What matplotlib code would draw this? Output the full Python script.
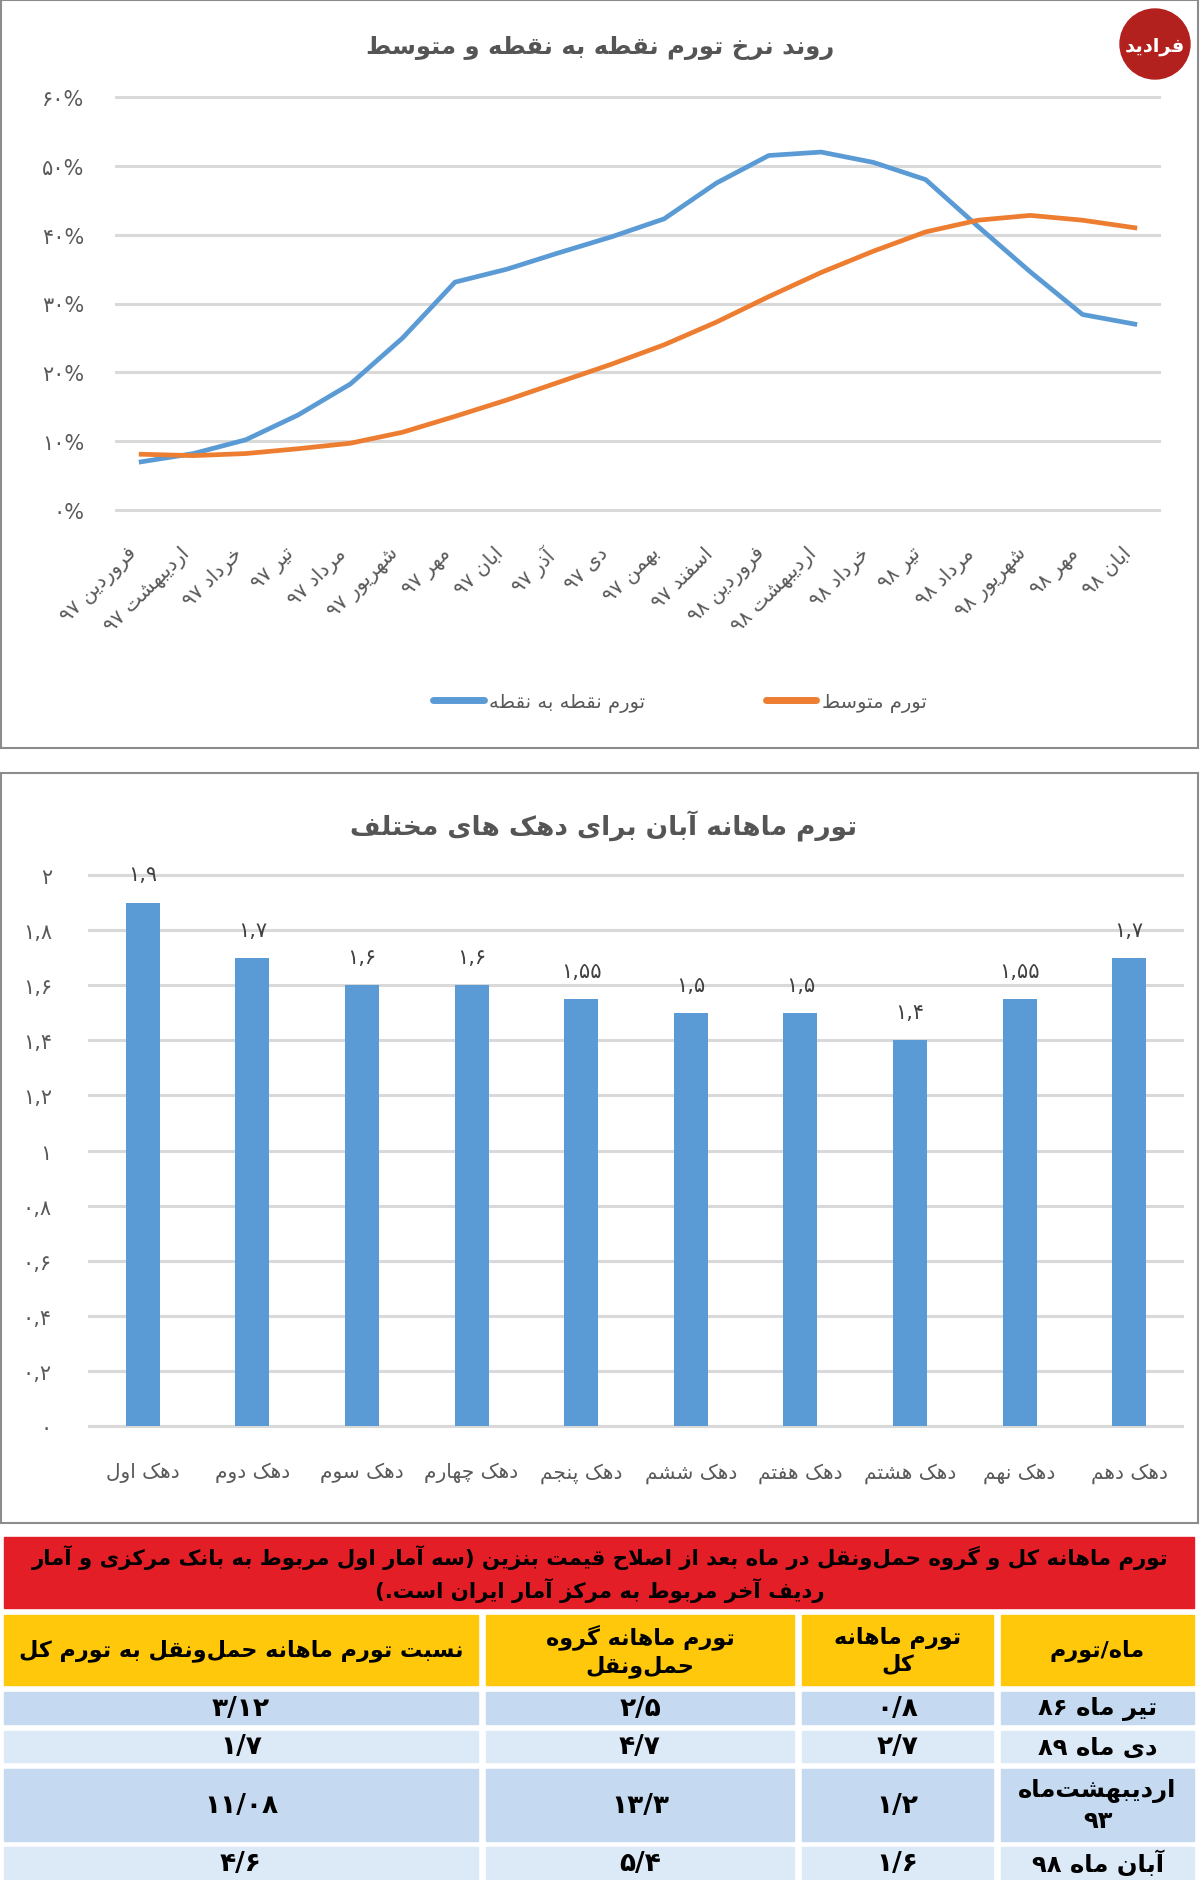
import re
import matplotlib
matplotlib.use("Agg")
import matplotlib.pyplot as plt
from matplotlib.patches import Rectangle, Circle

# ---------------- Persian shaping helpers ----------------
DUAL = {
    'ب': 'ﺏﺐﺑﺒ', 'پ': 'ﭖﭗﭘﭙ', 'ت': 'ﺕﺖﺗﺘ', 'ث': 'ﺙﺚﺛﺜ', 'ج': 'ﺝﺞﺟﺠ',
    'چ': 'ﭺﭻﭼﭽ', 'ح': 'ﺡﺢﺣﺤ', 'خ': 'ﺥﺦﺧﺨ', 'س': 'ﺱﺲﺳﺴ', 'ش': 'ﺵﺶﺷﺸ',
    'ص': 'ﺹﺺﺻﺼ', 'ض': 'ﺽﺾﺿﻀ', 'ط': 'ﻁﻂﻃﻄ', 'ظ': 'ﻅﻆﻇﻈ', 'ع': 'ﻉﻊﻋﻌ',
    'غ': 'ﻍﻎﻏﻐ', 'ف': 'ﻑﻒﻓﻔ', 'ق': 'ﻕﻖﻗﻘ', 'ک': 'ﮎﮏﮐﮑ', 'گ': 'ﮒﮓﮔﮕ',
    'ل': 'ﻝﻞﻟﻠ', 'م': 'ﻡﻢﻣﻤ', 'ن': 'ﻥﻦﻧﻨ', 'ه': 'ﻩﻪﻫﻬ', 'ی': 'ﯼﯽﯾﯿ',
    'ئ': 'ﺉﺊﺋﺌ',
}
RIGHT = {
    'ا': 'ﺍﺎ', 'آ': 'ﺁﺂ', 'أ': 'ﺃﺄ', 'إ': 'ﺇﺈ', 'د': 'ﺩﺪ', 'ذ': 'ﺫﺬ',
    'ر': 'ﺭﺮ', 'ز': 'ﺯﺰ', 'ژ': 'ﮊﮋ', 'و': 'ﻭﻮ', 'ؤ': 'ﺅﺆ',
}
LAMALEF = {'ا': 'ﻻﻼ', 'آ': 'ﻵﻶ', 'أ': 'ﻷﻸ', 'إ': 'ﻹﻺ'}


def _shape(text):
    toks = []
    i = 0
    while i < len(text):
        c = text[i]
        if c == 'ل' and i + 1 < len(text) and text[i + 1] in LAMALEF:
            toks.append(('LA', text[i + 1]))
            i += 2
        else:
            toks.append(c)
            i += 1

    def dual(t):
        return isinstance(t, str) and t in DUAL

    def joining(t):
        return isinstance(t, tuple) or (isinstance(t, str) and (t in DUAL or t in RIGHT))

    out = []
    for k, t in enumerate(toks):
        prev = toks[k - 1] if k > 0 else None
        nxt = toks[k + 1] if k + 1 < len(toks) else None
        cp = prev is not None and dual(prev) and joining(t)
        cn = nxt is not None and dual(t) and joining(nxt)
        if isinstance(t, tuple):
            out.append(LAMALEF[t[1]][1 if cp else 0])
        elif t in DUAL:
            f = DUAL[t]
            out.append(f[3] if (cp and cn) else f[1] if cp else f[2] if cn else f[0])
        elif t in RIGHT:
            out.append(RIGHT[t][1 if cp else 0])
        elif t == '\u200c':
            continue
        else:
            out.append(t)
    return ''.join(out)


MIRROR = {'(': ')', ')': '('}
NUMRE = re.compile(r'[0-9۰-۹]+(?:[/٫.,][0-9۰-۹]+)*')


def fa(text):
    lines = []
    for line in text.split('\n'):
        s = _shape(line)
        toks = []
        pos = 0
        for m in NUMRE.finditer(s):
            toks.extend(list(s[pos:m.start()]))
            toks.append(m.group())
            pos = m.end()
        toks.extend(list(s[pos:]))
        toks = [MIRROR.get(t, t) for t in reversed(toks)]
        lines.append(''.join(toks))
    return '\n'.join(lines)


# ---------------- data ----------------
months = ['فروردین ۹۷', 'اردیبهشت ۹۷', 'خرداد ۹۷', 'تیر ۹۷', 'مرداد ۹۷',
          'شهریور ۹۷', 'مهر ۹۷', 'ابان ۹۷', 'آذر ۹۷', 'دی ۹۷', 'بهمن ۹۷',
          'اسفند ۹۷', 'فروردین ۹۸', 'اردیبهشت ۹۸', 'خرداد ۹۸', 'تیر ۹۸',
          'مرداد ۹۸', 'شهریور ۹۸', 'مهر ۹۸', 'ابان ۹۸']
point_to_point = [7.0, 8.2, 10.2, 13.8, 18.3, 25.0, 33.1, 35.0, 37.4, 39.7,
                  42.3, 47.5, 51.5, 52.0, 50.5, 48.0, 41.2, 34.6, 28.4, 27.0]
average = [8.1, 7.9, 8.2, 8.9, 9.7, 11.3, 13.6, 16.0, 18.6, 21.2,
           24.0, 27.3, 31.0, 34.5, 37.6, 40.4, 42.1, 42.8, 42.1, 41.0]
line_title = 'روند نرخ تورم نقطه به نقطه و متوسط'
series_names = ['تورم نقطه به نقطه', 'تورم متوسط']
pct_ticks = [0, 10, 20, 30, 40, 50, 60]
pct_labels = ['۰%', '۱۰%', '۲۰%', '۳۰%', '۴۰%', '۵۰%', '۶۰%']

deciles = ['دهک اول', 'دهک دوم', 'دهک سوم', 'دهک چهارم', 'دهک پنجم',
           'دهک ششم', 'دهک هفتم', 'دهک هشتم', 'دهک نهم', 'دهک دهم']
decile_values = [1.9, 1.7, 1.6, 1.6, 1.55, 1.5, 1.5, 1.4, 1.55, 1.7]
decile_labels = ['۱,۹', '۱,۷', '۱,۶', '۱,۶', '۱,۵۵', '۱,۵', '۱,۵', '۱,۴', '۱,۵۵', '۱,۷']
bar_title = 'تورم ماهانه آبان برای دهک های مختلف'
bar_ticks = [0, 0.2, 0.4, 0.6, 0.8, 1.0, 1.2, 1.4, 1.6, 1.8, 2.0]
bar_tick_labels = ['۰', '۰,۲', '۰,۴', '۰,۶', '۰,۸', '۱', '۱,۲', '۱,۴', '۱,۶', '۱,۸', '۲']

table_title = ('تورم ماهانه کل و گروه حمل‌ونقل در ماه بعد از اصلاح قیمت بنزین (سه آمار اول مربوط به بانک مرکزی و آمار\n'
               'ردیف آخر مربوط به مرکز آمار ایران است.)')
table_header = ['ماه/تورم', 'تورم ماهانه\nکل', 'تورم ماهانه گروه\nحمل‌ونقل',
                'نسبت تورم ماهانه حمل‌ونقل به تورم کل']
table_months = ['تیر ماه ۸۶', 'دی ماه ۸۹', 'اردیبهشت‌ماه\n۹۳', 'آبان ماه ۹۸']
table_total = ['۰/۸', '۲/۷', '۱/۲', '۱/۶']
table_transport = ['۲/۵', '۴/۷', '۱۳/۳', '۵/۴']
table_ratio = ['۳/۱۲', '۱/۷', '۱۱/۰۸', '۴/۶']

# ---------------- figure ----------------
W, H = 1200, 1881
fig = plt.figure(figsize=(W / 100, H / 100), dpi=100)
plt.rcParams['font.family'] = ['DejaVu Sans']

BLUE = '#5B9BD5'
ORANGE = '#ED7D31'
GRID = '#D9D9D9'
TXT = '#595959'


def box(left, top, right, bottom):
    return [left / W, 1 - bottom / H, (right - left) / W, (bottom - top) / H]


bg = fig.add_axes([0, 0, 1, 1])
bg.set_xlim(0, W)
bg.set_ylim(H, 0)
bg.axis('off')
bg.add_patch(Rectangle((1, 1), W - 3, 748, fill=False, ec='#8C8C8C', lw=1.5))
bg.add_patch(Rectangle((1, 774), W - 3, 750, fill=False, ec='#8C8C8C', lw=1.5))

# ---- line chart ----
ppu = (511 - 98) / 60.0
ax1 = fig.add_axes(box(115, 98 - 0.4 * ppu, 1161, 511 + 0.4 * ppu))
x = list(range(len(months)))
ax1.plot(x, point_to_point, color=BLUE, lw=3.4, solid_joinstyle='round', label=fa(series_names[0]), zorder=3)
ax1.plot(x, average, color=ORANGE, lw=3.4, solid_joinstyle='round', label=fa(series_names[1]), zorder=3)
ax1.set_xlim(-0.5, len(months) - 0.5)
ax1.set_ylim(-0.4, 60.4)
ax1.set_yticks(pct_ticks)
ax1.set_yticklabels(pct_labels, fontsize=15, color=TXT)
ax1.set_xticks(x)
ax1.set_xticklabels([fa(m) for m in months], rotation=45, ha='right', va='top',
                    fontsize=14.5, color=TXT)
ax1.tick_params(axis='both', length=0)
ax1.tick_params(axis='y', pad=22)
ax1.tick_params(axis='x', pad=22)
ax1.grid(axis='y', color=GRID, lw=2.2)
ax1.set_axisbelow(True)
for s in ax1.spines.values():
    s.set_visible(False)
ax1.set_facecolor('none')
fig.text(600 / W, 1 - 48 / H, fa(line_title), ha='center', va='center',
         fontsize=17.5, fontweight='bold', color='#555555')
ax1.legend(loc='center', bbox_to_anchor=(680 / W, 1 - 703 / H), bbox_transform=fig.transFigure,
           ncol=2, frameon=False, fontsize=14, handlelength=2.6, handletextpad=0.3,
           columnspacing=6.2, labelcolor=TXT)
for ln in ax1.get_legend().get_lines():
    ln.set_linewidth(5)
    ln.set_solid_capstyle('round')

# logo
bg.add_patch(Circle((1155, 45), 35, color='#B3211E'))
bg.text(1155, 46, fa('فرادید'), ha='center', va='center', color='white',
        fontsize=14, fontweight='bold')

# ---- bar chart ----
bpu = (1427 - 876) / 2.0
ax2 = fig.add_axes(box(88, 876 - 0.01 * bpu, 1184, 1427 + 0.01 * bpu))
xb = list(range(len(deciles)))
bars = ax2.bar(xb, decile_values, width=0.31, color=BLUE, zorder=3)
for rect, lab in zip(bars, decile_labels):
    ax2.annotate(lab, (rect.get_x() + rect.get_width() / 2, rect.get_height()),
                 xytext=(0, 13), textcoords='offset points', ha='center', va='bottom',
                 fontsize=15, color='#404040')
ax2.set_xlim(-0.5, len(deciles) - 0.5)
ax2.set_ylim(-0.01, 2.01)
ax2.set_yticks(bar_ticks)
ax2.set_yticklabels(bar_tick_labels, fontsize=15, color=TXT)
ax2.set_xticks(xb)
ax2.set_xticklabels([fa(d) for d in deciles], fontsize=14.5, color=TXT)
ax2.tick_params(axis='both', length=0)
ax2.tick_params(axis='y', pad=26)
ax2.tick_params(axis='x', pad=24)
ax2.grid(axis='y', color=GRID, lw=2.2)
ax2.set_axisbelow(True)
for s in ax2.spines.values():
    s.set_visible(False)
ax2.set_facecolor('none')
fig.text(604 / W, 1 - 826 / H, fa(bar_title), ha='center', va='center',
         fontsize=19, fontweight='bold', color='#555555')

# ---- table ----
RED = '#E41E26'
YEL = '#FFC80A'
ROW_DARK = '#C5DAF0'
ROW_LIGHT = '#DCE9F6'
bg.add_patch(Rectangle((4, 1538), 1190, 71, color=RED))
bg.text(600, 1574, fa(table_title), ha='center', va='center', fontsize=15.3,
        fontweight='bold', color='black', linespacing=1.4)

col_bounds = [(1001, 1194), (802, 993), (486, 794), (4, 478)]  # right-to-left columns
row_bounds = [(1616, 1686), (1693, 1725), (1732, 1763), (1770, 1842), (1848, 1890)]
rows = [table_header] + [list(r) for r in zip(table_months, table_total, table_transport, table_ratio)]
for ri, ((top, bot), row) in enumerate(zip(row_bounds, rows)):
    if ri == 0:
        color = YEL
    else:
        color = ROW_DARK if ri % 2 == 1 else ROW_LIGHT
    for ci, ((l, r), val) in enumerate(zip(col_bounds, row)):
        bg.add_patch(Rectangle((l, top), r - l, bot - top, color=color))
        cy = (top + bot) / 2 if ri < 4 else (top + bot) / 2 - 5
        if ri == 0:
            fs = 16
        elif ci == 0:
            fs = 17.5
        else:
            fs = 19
        bg.text((l + r) / 2, cy, fa(val), ha='center', va='center', fontsize=fs,
                fontweight='bold', color='black', linespacing=1.3)

fig.savefig('out.png', dpi=100, facecolor='white')
